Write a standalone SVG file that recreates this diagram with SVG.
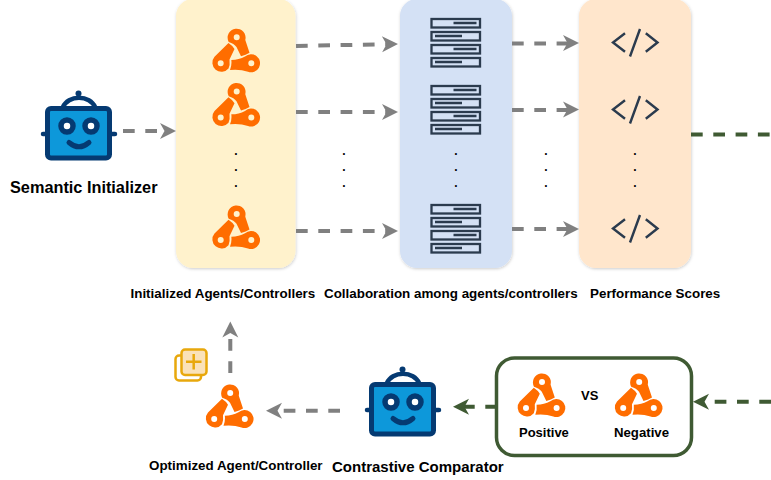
<svg xmlns="http://www.w3.org/2000/svg" xmlns:xlink="http://www.w3.org/1999/xlink" width="771" height="480" viewBox="0 0 771 480">
<style>
text{font-family:"Liberation Sans",Arial,sans-serif;font-weight:700;fill:#000}
.g{fill:none;stroke:#808080;stroke-width:4;stroke-dasharray:11.7 10.6}
.d{fill:none;stroke:#3f5a33;stroke-width:4;stroke-dasharray:11.7 10.6}
.hg{fill:#808080}.hd{fill:#3f5a33}
.dot{font-size:12px;text-anchor:middle}
.srv rect.b{fill:none;stroke:#2b3b4e;stroke-width:2.300}
.srv path{stroke:#2b3b4e;stroke-width:2.500;fill:none}
.code path{fill:none;stroke:#2b3b4e;stroke-width:2.400}
</style>
<defs>
<filter id="sh" x="-10%" y="-10%" width="120%" height="120%"><feDropShadow dx="0.5" dy="1" stdDeviation="1.5" flood-color="#000" flood-opacity=".2"/></filter>
<g id="chain" fill="#ff6d00" fill-rule="evenodd">
<path d="M-7.300,-10A9,9 0 1 1 9.300,-12L13.500,0.800Q10,3 5,4.300L0.500,-5Q-2,-8.500 -7.300,-10ZM-2.300,-14.700a3,3 0 1 0 6,0a3,3 0 1 0 -6,0Z"/>
<path d="M-7.500,-9Q-3,-6 -1.500,-3L-6.500,7.500Q-5.800,13 -7.500,16.500A9,9 0 1 1 -21.500,4.800ZM-18.300,11.300a3,3 0 1 0 6,0a3,3 0 1 0 -6,0Z"/>
<path d="M-4.700,8Q3,8 9,4.600A9,9 0 1 1 12,19.700Q4,17 -6,18Q-4,13 -4.700,8ZM12.300,11.300a3,3 0 1 0 6,0a3,3 0 1 0 -6,0Z"/>
</g>
<g id="robot">
<path d="M63,107A17,14 0 0 1 95,107" fill="none" stroke="#053a72" stroke-width="4.500"/>
<circle cx="78.500" cy="93.500" r="3" fill="#053a72"/>
<path d="M43,134h5M110,134h5" stroke="#053a72" stroke-width="4.500" stroke-linecap="round"/>
<rect x="47.500" y="108.500" width="62" height="49.500" rx="3.500" fill="#0d98da" stroke="#053a72" stroke-width="5"/>
<circle cx="67" cy="126" r="6" fill="#fff" stroke="#053a72" stroke-width="5.500"/>
<circle cx="91" cy="126" r="6" fill="#fff" stroke="#053a72" stroke-width="5.500"/>
<path d="M69,142.500Q79,151 89,142.500" fill="none" stroke="#053a72" stroke-width="5" stroke-linecap="round"/>
</g>
<g id="server" class="srv">
<rect class="b" x="431.500" y="19" width="48.500" height="8.500"/><path d="M453.500,23h23"/>
<rect class="b" x="431.500" y="32" width="48.500" height="8.500"/><path d="M435,36h27"/>
<rect class="b" x="431.500" y="45" width="48.500" height="8.500"/><path d="M453.500,49h23"/>
<rect class="b" x="431.500" y="58" width="48.500" height="8.500"/><path d="M435,62h27"/>
</g>
<g id="code" class="code">
<path d="M625,33.300L613,42.500L625,51.800M640,29L630,56.500M645.800,33.300L657.500,42.500L645.800,51.800"/>
</g>
<path id="hr" d="M0,0L-16,-8L-11.500,0L-16,8Z"/>
</defs>

<g id="panel-agents"><rect x="176" y="-1" width="119.500" height="269" rx="17" fill="#fff2cc" filter="url(#sh)"/></g>
<g id="panel-collab"><rect x="400" y="-1" width="112" height="269" rx="17" fill="#d4e1f5" filter="url(#sh)"/></g>
<g id="panel-scores"><rect x="579" y="-1" width="112" height="269" rx="17" fill="#ffe6cc" filter="url(#sh)"/></g>

<g id="connectors">
<path class="g" d="M123,131H165"/><use xlink:href="#hr" class="hg" transform="translate(176,131)"/>
<path class="g" d="M296,46L387,44.200"/><use xlink:href="#hr" class="hg" transform="translate(398,44) rotate(-1)"/>
<path class="g" d="M296,112H387"/><use xlink:href="#hr" class="hg" transform="translate(398,112)"/>
<path class="g" d="M296,231H387"/><use xlink:href="#hr" class="hg" transform="translate(398,231)"/>
<path class="g" d="M512,43.500H568"/><use xlink:href="#hr" class="hg" transform="translate(579,43)"/>
<path class="g" d="M512,110H568"/><use xlink:href="#hr" class="hg" transform="translate(579,109.500)"/>
<path class="g" d="M512,229H568"/><use xlink:href="#hr" class="hg" transform="translate(579,229)"/>
<path class="d" d="M691,134.500H771"/>
<path class="g" d="M230.300,373V333"/><use xlink:href="#hr" class="hg" transform="translate(230.300,321.500) rotate(-90)"/>
<path class="g" d="M340,410.700H277"/><use xlink:href="#hr" class="hg" transform="translate(266,410.700) rotate(180)"/>
<path class="d" d="M497,406.700H464"/><use xlink:href="#hr" class="hd" transform="translate(453,406.700) rotate(180)"/>
<path class="d" d="M771,401.700H704"/><use xlink:href="#hr" class="hd" transform="translate(693,401.700) rotate(180)"/>
</g>

<g id="semantic-initializer"><use xlink:href="#robot"/><text x="10" y="193" font-size="16.300">Semantic Initializer</text></g>

<g id="agents">
<use xlink:href="#chain" x="236" y="52"/>
<use xlink:href="#chain" x="236" y="106.300"/>
<use xlink:href="#chain" x="236" y="228.700"/>
<text class="dot" x="236" y="155">.</text><text class="dot" x="236" y="171">.</text><text class="dot" x="236" y="187">.</text>
<text x="130.500" y="298" font-size="13.400">Initialized Agents/Controllers</text>
</g>
<g id="gap-dots"><text class="dot" x="344" y="155">.</text><text class="dot" x="344" y="171">.</text><text class="dot" x="344" y="187">.</text></g>
<g id="collaboration">
<use xlink:href="#server"/>
<use xlink:href="#server" y="67"/>
<use xlink:href="#server" y="186"/>
<text class="dot" x="456" y="155">.</text><text class="dot" x="456" y="171">.</text><text class="dot" x="456" y="187">.</text>
<text x="324" y="298" font-size="13.400">Collaboration among agents/controllers</text>
</g>
<g id="gap-dots-2"><text class="dot" x="546" y="155">.</text><text class="dot" x="546" y="171">.</text><text class="dot" x="546" y="187">.</text></g>
<g id="scores">
<use xlink:href="#code"/>
<use xlink:href="#code" y="67"/>
<use xlink:href="#code" y="186"/>
<text class="dot" x="635" y="155">.</text><text class="dot" x="635" y="171">.</text><text class="dot" x="635" y="187">.</text>
<text x="590" y="298" font-size="13.400">Performance Scores</text>
</g>

<g id="plus-icon">
<rect x="175.500" y="355.500" width="25.500" height="25" rx="3.500" fill="none" stroke="#e8a80c" stroke-width="2.500"/>
<rect x="181.500" y="349.500" width="25" height="25.500" rx="3.500" fill="#fae2b9" stroke="#e8a80c" stroke-width="2.500"/>
<path d="M186,361.700h15.500M193.700,354v15.500" stroke="#e8a80c" stroke-width="2.500" fill="none"/>
</g>
<g id="optimized"><use xlink:href="#chain" x="229.500" y="407.700"/><text x="149" y="470" font-size="13.400">Optimized Agent/Controller</text></g>
<g id="contrastive-comparator"><use xlink:href="#robot" x="324" y="276"/><text x="332" y="472" font-size="15">Contrastive Comparator</text></g>
<g id="comparison">
<rect x="496.500" y="358" width="195" height="97.500" rx="18" fill="#fff" stroke="#3f5a33" stroke-width="3.500"/>
<use xlink:href="#chain" x="541.300" y="396.700"/>
<use xlink:href="#chain" x="638.500" y="396.700"/>
<text x="581" y="400" font-size="13">VS</text>
<text x="519" y="437" font-size="13">Positive</text>
<text x="614" y="437" font-size="13.200">Negative</text>
</g>
</svg>
